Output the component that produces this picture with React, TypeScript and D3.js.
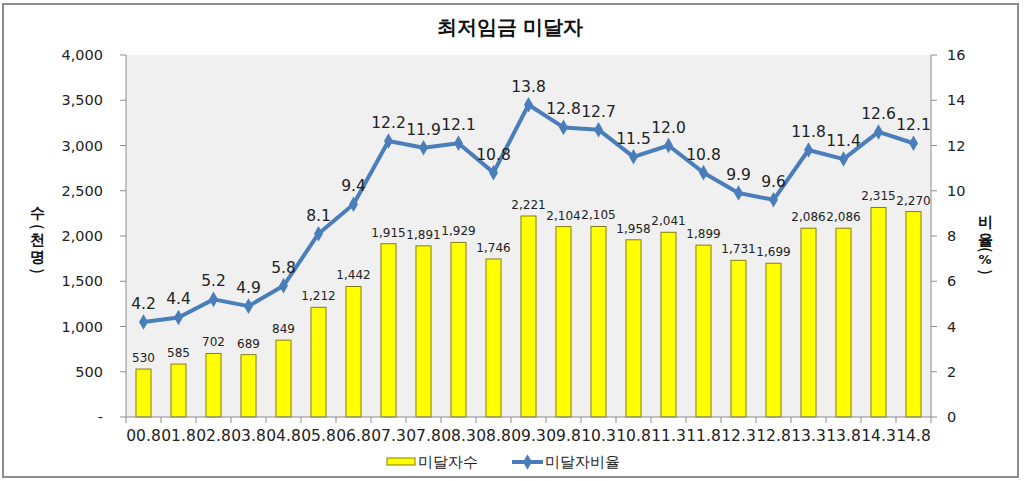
import React from "react";
import * as d3 from "d3";

const categories = ["00.8","01.8","02.8","03.8","04.8","05.8","06.8","07.3","07.8","08.3","08.8","09.3","09.8","10.3","10.8","11.3","11.8","12.3","12.8","13.3","13.8","14.3","14.8"];
const counts = [530,585,702,689,849,1212,1442,1915,1891,1929,1746,2221,2104,2105,1958,2041,1899,1731,1699,2086,2086,2315,2270];
const rates = [4.2,4.4,5.2,4.9,5.8,8.1,9.4,12.2,11.9,12.1,10.8,13.8,12.8,12.7,11.5,12.0,10.8,9.9,9.6,11.8,11.4,12.6,12.1];
const leftTicks = [0,500,1000,1500,2000,2500,3000,3500,4000];
const rightTicks = [0,2,4,6,8,10,12,14,16];

const W = 1024, H = 481;
const L = 126, R = 931, T = 55, B = 417;
const FONT = "'DejaVu Sans', Verdana, sans-serif";

export default function App() {
  const x = d3.scaleBand<string>().domain(categories).range([L, R]).paddingInner(0.57).paddingOuter(0.285);
  const step = (R - L) / categories.length;
  const yL = d3.scaleLinear().domain([0, 4000]).range([B, T]);
  const yR = d3.scaleLinear().domain([0, 16]).range([B, T]);
  const cx = (c: string) => L + categories.indexOf(c) * step + step / 2;
  const line = d3.line<number>().x((_, i) => cx(categories[i])).y((d) => yR(d));
  const fmt = d3.format(",");
  const diamond = d3.symbol().type(d3.symbolDiamond).size(70)();

  const leftTitle = ["수", "(", "천", "명", ")"];
  const leftY = [213, 227, 240, 257, 271];
  const rightTitle = ["비", "율", "(", "%", ")"];
  const rightY = [222, 240, 250, 259, 272];

  return (
    <svg width={W} height={H} style={{ position: "absolute", left: 0, top: 0 }} fontFamily={FONT}>
      <rect x={0} y={0} width={W} height={H} fill="#fff" />
      <rect x={3} y={4} width={1015} height={473} fill="#fff" stroke="#8c8c8c" strokeWidth={2} />
      <text x={510} y={34} textAnchor="middle" fontSize={20} fontWeight="bold" fill="#111">최저임금 미달자</text>
      <rect x={L} y={T} width={R - L} height={B - T} fill="#f0f0f0" />
      {/* bars */}
      {categories.map((c, i) => (
        <rect key={c} x={x(c)} y={yL(counts[i])} width={x.bandwidth()} height={B - yL(counts[i])}
          fill="#ffff00" stroke="#8a7d10" strokeWidth={1} />
      ))}
      {categories.map((c, i) => (
        <text key={"bl" + c} x={cx(c)} y={yL(counts[i]) - 7} textAnchor="middle" fontSize={12} fill="#222">{fmt(counts[i])}</text>
      ))}
      {/* line */}
      <path d={line(rates) || ""} fill="none" stroke="#4a7ebb" strokeWidth={4} strokeLinejoin="round" />
      {categories.map((c, i) => (
        <path key={"m" + c} d={diamond || ""} transform={`translate(${cx(c)},${yR(rates[i])})`} fill="#4a7ebb" />
      ))}
      {categories.map((c, i) => (
        <text key={"ll" + c} x={cx(c)} y={yR(rates[i]) - 13} textAnchor="middle" fontSize={15.5} fill="#222">{rates[i].toFixed(1)}</text>
      ))}
      {/* axes */}
      <line x1={L} y1={T} x2={L} y2={B} stroke="#8c8c8c" />
      <line x1={R} y1={T} x2={R} y2={B} stroke="#8c8c8c" />
      <line x1={L} y1={B} x2={R} y2={B} stroke="#8c8c8c" />
      {leftTicks.map((t) => (
        <g key={"lt" + t}>
          <line x1={L - 6} x2={L} y1={yL(t)} y2={yL(t)} stroke="#8c8c8c" />
          <text x={103} y={yL(t) + 5} textAnchor="end" fontSize={14.5} fill="#222">{t === 0 ? "-" : fmt(t)}</text>
        </g>
      ))}
      {rightTicks.map((t) => (
        <g key={"rt" + t}>
          <line x1={R} x2={R + 6} y1={yR(t)} y2={yR(t)} stroke="#8c8c8c" />
          <text x={947} y={yR(t) + 5} textAnchor="start" fontSize={14.5} fill="#222">{t}</text>
        </g>
      ))}
      {d3.range(categories.length + 1).map((i) => (
        <line key={"xt" + i} x1={L + i * step} x2={L + i * step} y1={B} y2={B + 6} stroke="#8c8c8c" />
      ))}
      {categories.map((c) => (
        <text key={"xl" + c} x={cx(c)} y={441} textAnchor="middle" fontSize={15} textLength={34.5} lengthAdjust="spacingAndGlyphs" fill="#222">{c}</text>
      ))}
      {/* axis titles */}
      {leftTitle.map((ch, i) => (
        ch === "(" || ch === ")" ?
          <text key={"lh" + i} x={37} y={leftY[i]} textAnchor="middle" dominantBaseline="central" fontSize={15} fill="#111" transform={`rotate(90 37 ${leftY[i]})`}>{ch}</text> :
          <text key={"lh" + i} x={37} y={leftY[i]} textAnchor="middle" dominantBaseline="central" fontSize={15} fontWeight="bold" fill="#111">{ch}</text>
      ))}
      {rightTitle.map((ch, i) => (
        ch === "(" || ch === ")" ?
          <text key={"rh" + i} x={985} y={rightY[i]} textAnchor="middle" dominantBaseline="central" fontSize={15} fill="#111" transform={`rotate(90 985 ${rightY[i]})`}>{ch}</text> :
          <text key={"rh" + i} x={985} y={rightY[i]} textAnchor="middle" dominantBaseline="central" fontSize={ch === "%" ? 13 : 15} fontWeight="bold" fill="#111">{ch}</text>
      ))}
      {/* legend */}
      <rect x={387} y={458} width={28} height={7} fill="#ffff00" stroke="#8a7d10" strokeWidth={1} />
      <text x={418} y={467} fontSize={15} fill="#222">미달자수</text>
      <line x1={512} x2={543} y1={462} y2={462} stroke="#4a7ebb" strokeWidth={4} />
      <path d={diamond || ""} transform="translate(527.5,462)" fill="#4a7ebb" />
      <text x={545} y={467} fontSize={15} fill="#222">미달자비율</text>
    </svg>
  );
}
